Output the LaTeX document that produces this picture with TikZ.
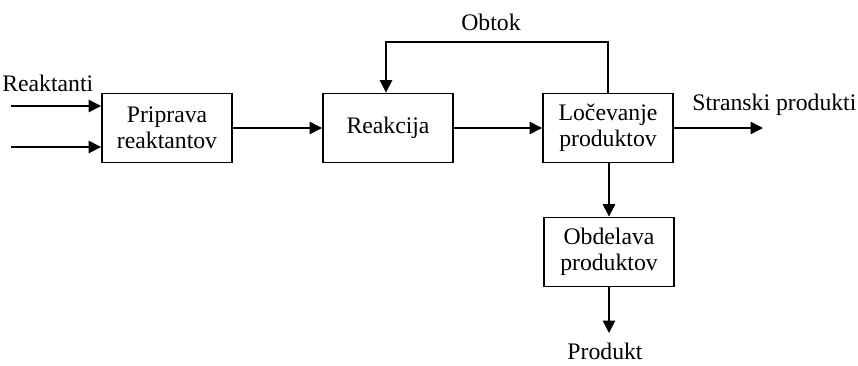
\documentclass[tikz,border=0pt]{standalone}
\usepackage{fontspec}
\setmainfont{Liberation Serif}
\usetikzlibrary{arrows.meta, calc}

\tikzset{
    blok/.style={draw, line width=1.1pt, minimum width=2.6cm, minimum height=1.38cm, align=center, inner sep=2pt},
    tok/.style={line width=0.85pt, -{Triangle[length=0.25cm, width=0.25cm]}},
    napis/.style={inner sep=0pt}
}

\begin{document}
\begin{tikzpicture}[x=0.02cm, y=-0.02cm, font=\fontsize{13.5}{14.8}\selectfont]
        \useasboundingbox (0,0) rectangle (858,365);
        
        % bloki
        \node[blok] (priprava) at (167,128) {Priprava\\reaktantov};
        \node[blok] (reakcija) at (388,128) {Reakcija};
        \node[blok] (locevanje) at (608,128) {Ločevanje\\produktov};
        \node[blok] (obdelava) at (609,252) {Obdelava\\produktov};
        
        % vhodi
        \coordinate (vhod1) at (11,106);
        \coordinate (vhod2) at (11,147);
        \draw[tok] (vhod1) -- (vhod1 -| priprava.west);
        \draw[tok] (vhod2) -- (vhod2 -| priprava.west);
        \node[napis, anchor=base west] (reaktanti) at (2,91) {Reaktanti};
        
        \draw[tok] (priprava) -- (reakcija);
        \draw[tok] (reakcija) -- (locevanje);
        
        % obtok
        \coordinate (obtok) at (497,42);
        \draw[tok] (locevanje.north) |- (obtok) -| ($(reakcija.north)+(-2,0)$);
        \node[napis, anchor=base] (obtoktext) at (491,31) {Obtok};
        
        % stranski produkti
        \coordinate (stranski) at (763,128);
        \draw[tok] (locevanje.east) -- (locevanje.east -| stranski);
        \node[napis, anchor=base west] (stranskitext) at (692,110) {Stranski produkti};
        
        \draw[tok] (locevanje.south -| obdelava.north) -- (obdelava.north);
        
        % produkt
        \coordinate (produkt) at (609,333);
        \draw[tok] (obdelava.south) -- (produkt);
        \node[napis, anchor=base] (produkttext) at (605,359) {Produkt};
        
    \end{tikzpicture}
\end{document}
